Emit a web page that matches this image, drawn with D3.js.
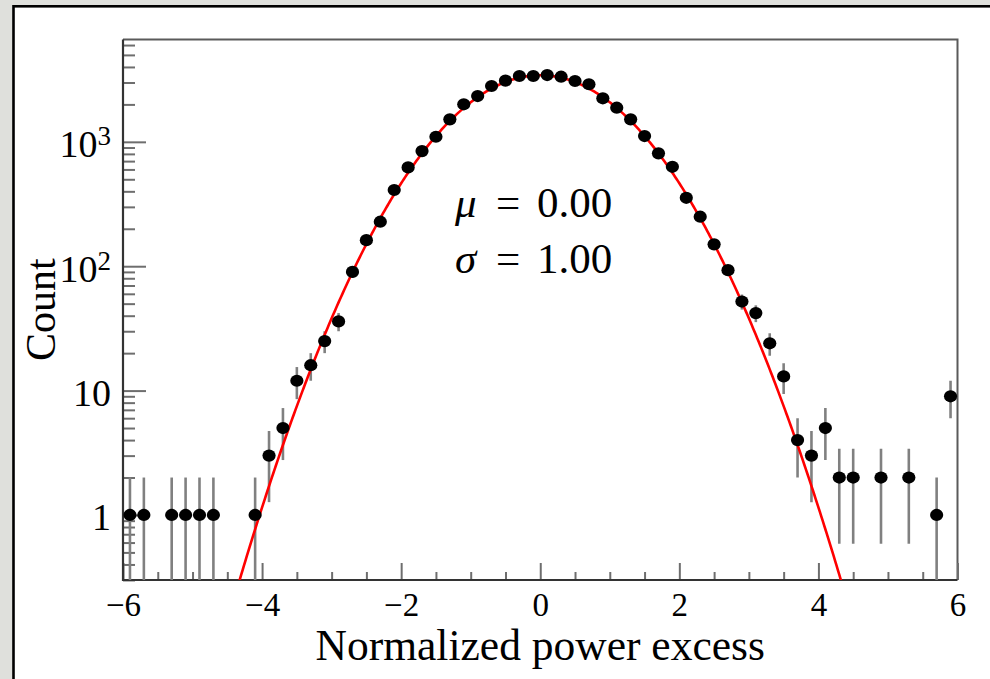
<!DOCTYPE html>
<html>
<head>
<meta charset="utf-8">
<style>
  body { margin: 0; background: #dfe0dc; }
  svg { display: block; }
  text { font-family: "Liberation Serif", "Times New Roman", serif; fill: #000; }
</style>
</head>
<body>
<script src="https://cdn.jsdelivr.net/npm/d3@7/dist/d3.min.js"></script>
<script>
// histogram bins (bin width 0.2)
var binCenters = [
  -5.9, -5.7, -5.5, -5.3, -5.1, -4.9, -4.7, -4.5, -4.3, -4.1,
  -3.9, -3.7, -3.5, -3.3, -3.1, -2.9, -2.7, -2.5, -2.3, -2.1,
  -1.9, -1.7, -1.5, -1.3, -1.1, -0.9, -0.7, -0.5, -0.3, -0.1,
   0.1,  0.3,  0.5,  0.7,  0.9,  1.1,  1.3,  1.5,  1.7,  1.9,
   2.1,  2.3,  2.5,  2.7,  2.9,  3.1,  3.3,  3.5,  3.7,  3.9,
   4.1,  4.3,  4.5,  4.7,  4.9,  5.1,  5.3,  5.5,  5.7,  5.9
];
var counts = [
  1, 1, 0, 1, 1, 1, 1, 0, 0, 1,
  3, 5, 12, 16, 25, 36, 90, 162, 228, 410,
  623, 843, 1099, 1517, 2004, 2335, 2812, 3103, 3383, 3383,
  3445, 3340, 3084, 2903, 2239, 1881, 1517, 1113, 808, 630,
  355, 250, 150, 93, 52, 42, 24, 13, 4, 3,
  5, 2, 2, 0, 2, 0, 2, 0, 1, 9
];

// gaussian fit
var fitMu = 0.0, fitSigma = 1.0, fitAmp = 3430;

var xMajorTicks = [-6, -4, -2, 0, 2, 4, 6];
var xMinorTicks = [-5.5, -5, -4.5, -3.5, -3, -2.5, -1.5, -1, -0.5, 0.5, 1, 1.5, 2.5, 3, 3.5, 4.5, 5, 5.5];
var yMajorTicks = [1, 10, 100, 1000];
var yMajorLabels = [['1', ''], ['10', ''], ['10', '2'], ['10', '3']];
var yMinorTicks = [0.3, 0.4, 0.5, 0.6, 0.7, 0.8, 0.9,
  2, 3, 4, 5, 6, 7, 8, 9,
  20, 30, 40, 50, 60, 70, 80, 90,
  200, 300, 400, 500, 600, 700, 800, 900,
  2000, 3000, 4000, 5000, 6000];

var W = 990, H = 679;
var pL = 123, pR = 957.5, pT = 39.5, pB = 580;

var svg = d3.select('body').append('svg').attr('width', W).attr('height', H);

// canvas panel
svg.append('rect').attr('width', W).attr('height', H).attr('fill', '#dfe0dc');
svg.append('rect')
    .attr('x', 13.5).attr('y', 6.3)
    .attr('width', W + 20).attr('height', H + 20)
    .attr('fill', '#fff').attr('stroke', '#000').attr('stroke-width', 2.6);

var x = d3.scaleLinear().domain([-6, 6]).range([pL, pR]);
var y = d3.scaleLog().domain([0.3, 6650]).range([pB, pT]);

svg.append('clipPath').attr('id', 'plotClip')
  .append('rect').attr('x', pL).attr('y', pT).attr('width', pR - pL).attr('height', pB - pT);

// frame (top / right)
svg.append('path')
    .attr('d', 'M' + pL + ',' + pT + 'H' + pR + 'V' + pB)
    .attr('fill', 'none').attr('stroke', '#5a5a5a').attr('stroke-width', 2);

// x axis
var gx = svg.append('g').attr('transform', 'translate(0,' + pB + ')');
gx.append('g').call(d3.axisBottom(x).tickValues(xMinorTicks).tickSize(-8).tickFormat(''))
    .call(function(g){ g.select('.domain').remove(); });
gx.append('g').call(d3.axisBottom(x).tickValues(xMajorTicks).tickSize(-17).tickPadding(13).tickFormat(d3.format('d')))
    .call(function(g){ g.select('.domain').remove(); });
gx.selectAll('.tick line').attr('stroke', '#6e6e6e').attr('stroke-width', 2);
gx.selectAll('.tick text').attr('font-size', 33).attr('font-family', '"Liberation Serif", serif').attr('fill', '#000');

// y axis
var gy = svg.append('g').attr('transform', 'translate(' + pL + ',0)');
gy.append('g').call(d3.axisLeft(y).tickValues(yMinorTicks).tickSize(-12).tickFormat(''))
    .call(function(g){ g.select('.domain').remove(); });
gy.append('g').call(d3.axisLeft(y).tickValues(yMajorTicks).tickSize(-23).tickPadding(12).tickFormat(''))
    .call(function(g){ g.select('.domain').remove(); })
    .selectAll('.tick text')
    .attr('font-size', 38).attr('font-family', '"Liberation Serif", serif').attr('fill', '#000')
    .attr('dy', '0.39em')
    .each(function(d, i){
        var lab = yMajorLabels[i];
        var t = d3.select(this);
        t.append('tspan').text(lab[0]);
        if (lab[1]) t.append('tspan').attr('font-size', 27).attr('dy', -12).text(lab[1]);
    });
gy.selectAll('.tick line').attr('stroke', '#6e6e6e').attr('stroke-width', 2);

// axis lines
svg.append('path')
    .attr('d', 'M' + pL + ',' + pT + 'V' + pB + 'H' + pR)
    .attr('fill', 'none').attr('stroke', '#333').attr('stroke-width', 2.2);

// axis titles
svg.append('text')
    .attr('x', x(0)).attr('y', 660)
    .attr('text-anchor', 'middle').attr('font-size', 43.5)
    .text('Normalized power excess');
svg.append('text')
    .attr('transform', 'translate(55,' + ((pT + pB) / 2) + ') rotate(-90)')
    .attr('text-anchor', 'middle').attr('font-size', 42)
    .text('Count');

var plot = svg.append('g').attr('clip-path', 'url(#plotClip)');

var bins = binCenters.map(function(c, i){ return { x: c, n: counts[i] }; })
    .filter(function(d){ return d.n > 0; });

// error bars
plot.selectAll('line.err').data(bins).enter().append('line')
    .attr('class', 'err')
    .attr('x1', function(d){ return x(d.x); })
    .attr('x2', function(d){ return x(d.x); })
    .attr('y1', function(d){ return y(d.n + Math.sqrt(d.n)); })
    .attr('y2', function(d){ var lo = d.n - Math.sqrt(d.n); return lo > 0 ? y(lo) : pB + 5; })
    .attr('stroke', '#808080').attr('stroke-width', 2.6);

// fit curve
var fx = d3.range(-6, 6.001, 0.02);
var fitLine = d3.line()
    .x(function(v){ return x(v); })
    .y(function(v){ var f = fitAmp * Math.exp(-0.5 * Math.pow((v - fitMu) / fitSigma, 2)); return y(Math.max(f, 0.05)); });
plot.append('path').datum(fx)
    .attr('d', fitLine)
    .attr('fill', 'none').attr('stroke', '#ff0000').attr('stroke-width', 2.6);

// markers
plot.selectAll('ellipse.pt').data(bins).enter().append('ellipse')
    .attr('class', 'pt')
    .attr('cx', function(d){ return x(d.x); })
    .attr('cy', function(d){ return y(d.n); })
    .attr('rx', 6.6).attr('ry', 6.1)
    .attr('fill', '#000');

// fit parameters
var stats = svg.append('g').attr('font-size', 43);
function statLine(sym, val, yb) {
    var t = stats.append('text').attr('y', yb);
    t.append('tspan').attr('x', 455).attr('font-style', 'italic').text(sym);
    t.append('tspan').attr('x', 496).text('=');
    t.append('tspan').attr('x', 537).text(val.toFixed(2));
}
statLine('μ', fitMu, 217);
statLine('σ', fitSigma, 273);
</script>
</body>
</html>
